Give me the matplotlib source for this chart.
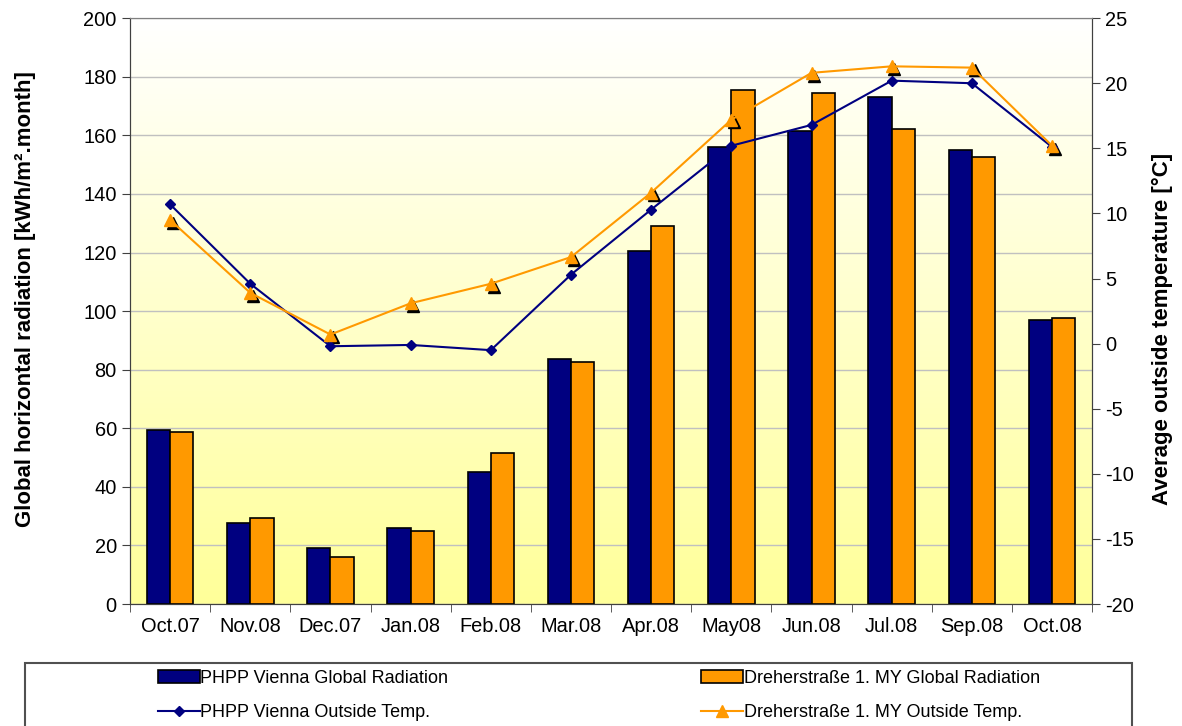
import numpy as np
import matplotlib.pyplot as plt
from matplotlib.patches import Rectangle
from matplotlib.transforms import offset_copy
from matplotlib.colors import LinearSegmentedColormap

plt.rcParams['font.family'] = ['Liberation Sans', 'DejaVu Sans']
plt.rcParams['axes.unicode_minus'] = False

# data
months = ['Oct.07', 'Nov.08', 'Dec.07', 'Jan.08', 'Feb.08', 'Mar.08',
          'Apr.08', 'May08', 'Jun.08', 'Jul.08', 'Sep.08', 'Oct.08']
rad_phpp = [59.5, 27.8, 19.0, 26.0, 45.0, 83.5, 120.5, 156.0, 161.5, 173.0, 155.0, 97.0]
rad_dreher = [58.8, 29.5, 16.0, 25.0, 51.5, 82.5, 129.0, 175.5, 174.5, 162.0, 152.5, 97.5]
temp_phpp = [10.7, 4.6, -0.2, -0.1, -0.5, 5.3, 10.3, 15.2, 16.8, 20.2, 20.0, 15.1]
temp_dreher = [9.5, 3.9, 0.7, 3.1, 4.6, 6.65, 11.6, 17.2, 20.8, 21.3, 21.2, 15.2]

navy = '#000080'
orange = '#FF9900'

fig = plt.figure(figsize=(11.82, 7.26), dpi=100)
ax = fig.add_axes([0.110, 0.168, 0.814, 0.807])
ax2 = ax.twinx()

x = np.arange(len(months))
w = 0.29

# yellow gradient background, white at the top
grad = np.linspace(0, 1, 256).reshape(-1, 1)
cmap = LinearSegmentedColormap.from_list('bg', ['#FFFF99', '#FFFFFF'])
ax.imshow(grad, aspect='auto', cmap=cmap, extent=(-0.5, 11.5, 0, 200),
          zorder=0, origin='lower')

ax.bar(x - w / 2, rad_phpp, w, color=navy, edgecolor='black', linewidth=1.2,
       label='PHPP Vienna Global Radiation', zorder=3)
ax.bar(x + w / 2, rad_dreher, w, color=orange, edgecolor='black', linewidth=1.2,
       label='Dreherstraße 1. MY Global Radiation', zorder=3)

ax.set_xlim(-0.5, 11.5)
ax.set_ylim(0, 200)
ax.set_yticks(np.arange(0, 201, 20))
ax.yaxis.grid(True, color='#C0C0C0', linewidth=1)
ax.set_axisbelow(True)
ax.set_xticks(x)
ax.set_xticklabels(months, fontsize=14.4)
ax.set_xticks(np.arange(-0.5, 12, 1), minor=True)
ax.tick_params(axis='x', which='major', length=0, pad=9)
ax.tick_params(axis='x', which='minor', length=6, color='#404040')
ax.tick_params(axis='y', labelsize=14.4, length=6, color='#404040')
ax.set_ylabel('Global horizontal radiation [kWh/m\u00b2.month]', fontsize=16,
              fontweight='bold')
ax.yaxis.set_label_coords(-0.098, 0.52)

# shadow under the orange triangles
shadow = offset_copy(ax2.transData, fig=fig, x=2, y=-2, units='points')
ax2.plot(x, temp_dreher, linestyle='none', marker='^', markersize=9,
         color='black', transform=shadow, zorder=4)
ax2.plot(x, temp_phpp, color=navy, linewidth=1.5, marker='D', markersize=5,
         label='PHPP Vienna Outside Temp.', zorder=5)
ax2.plot(x, temp_dreher, color=orange, linewidth=1.5, marker='^', markersize=9,
         label='Dreherstraße 1. MY Outside Temp.', zorder=6)
ax2.set_ylim(-20, 25)
ax2.set_yticks(np.arange(-20, 26, 5))
ax2.tick_params(axis='y', labelsize=14.4, length=6, color='#404040')
ax2.set_ylabel('Average outside temperature [\u00b0C]', fontsize=16,
               fontweight='bold')
ax2.yaxis.set_label_coords(1.062, 0.47)

for a in (ax, ax2):
    for s in a.spines.values():
        s.set_color('#404040')
    a.spines['top'].set_color('#808080')
ax.set_zorder(ax2.get_zorder() - 1)
ax2.patch.set_visible(False)

# legend: rows = radiation, temperature
h1, l1 = ax.get_legend_handles_labels()
h2, l2 = ax2.get_legend_handles_labels()
handles = [h1[0], h2[0], h1[1], h2[1]]
labels = [l1[0], l2[0], l1[1], l2[1]]
fig.legend(handles, labels, loc='upper left', ncol=2,
           bbox_to_anchor=(158 / 1182, 1 - 670 / 726),
           fontsize=13, frameon=False, handlelength=2.3, handletextpad=0.05,
           borderpad=0, borderaxespad=0, labelspacing=0.95, columnspacing=14)
fig.patches.append(Rectangle((25 / 1182, -0.02), (1132 - 25) / 1182, 0.02 + (726 - 663) / 726,
                             transform=fig.transFigure, fill=False,
                             edgecolor='#505050', linewidth=1.5))

fig.savefig('out.png', dpi=100)
